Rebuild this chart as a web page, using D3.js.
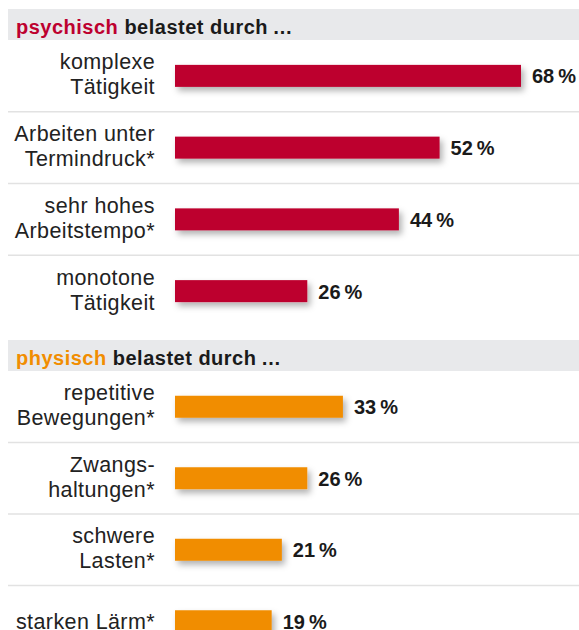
<!DOCTYPE html>
<html><head><meta charset="utf-8">
<script src="https://cdn.jsdelivr.net/npm/d3@7"></script>
<style>
html,body{margin:0;padding:0;background:#fff;}
svg{display:block;}
</style></head>
<body>
<script>
const psychCategories = [["komplexe","Tätigkeit"],["Arbeiten unter","Termindruck*"],["sehr hohes","Arbeitstempo*"],["monotone","Tätigkeit"]];
const psychValues = [68,52,44,26];
const physCategories = [["repetitive","Bewegungen*"],["Zwangs-","haltungen*"],["schwere","Lasten*"],["starken Lärm*"]];
const physValues = [33,26,21,19];
const groupTitles = [["psychisch"," belastet durch\u2009…"],["physisch"," belastet durch\u2009…"]];
const groupColors = ["#BD002F","#F18D00"];

const W = 579, H = 630;
const svg = d3.select("body").append("svg").attr("width",W).attr("height",H);
const defs = svg.append("defs");
const f = defs.append("filter").attr("id","sh").attr("x","-10%").attr("y","-50%").attr("width","130%").attr("height","250%");
f.append("feDropShadow").attr("dx",3).attr("dy",4).attr("stdDeviation",3).attr("flood-color","#000").attr("flood-opacity",0.3);

const x = d3.scaleLinear().domain([0,68]).range([175,521]);
const groups = [
  {cats: psychCategories, vals: psychValues, top: 9, rows:[40,327]},
  {cats: physCategories, vals: physValues, top: 340, rows:[371,657]}
];
const labelFont = "'Liberation Sans', Arial, sans-serif";
const headFont = "'Liberation Sans', Arial, sans-serif";

groups.forEach((g,gi)=>{
  const G = svg.append("g");
  G.append("rect").attr("x",8).attr("y",g.top).attr("width",W-8).attr("height",31).attr("fill","#E8E9EB");
  const t = G.append("text").attr("x",16).attr("y",g.top+24.5).attr("font-family",headFont).attr("font-weight","bold")
    .attr("font-size",20).attr("letter-spacing",0.5).attr("fill","#1a1a1a");
  t.append("tspan").attr("fill",groupColors[gi]).text(groupTitles[gi][0]);
  t.append("tspan").text(groupTitles[gi][1]);
  const y = d3.scaleBand().domain(d3.range(g.cats.length)).range(g.rows);
  G.selectAll("line.sep").data(d3.range(1,g.cats.length)).join("line")
    .attr("x1",8).attr("x2",W).attr("y1",i=>y(i)).attr("y2",i=>y(i))
    .attr("stroke","#E2E2E2").attr("stroke-width",1.5);
  const rows = G.selectAll("g.row").data(g.vals).join("g");
  rows.append("rect")
    .attr("x",x(0)).attr("y",(d,i)=>y(i)+y.bandwidth()/2-11)
    .attr("width",d=>x(d)-x(0)).attr("height",22)
    .attr("fill",groupColors[gi]).attr("filter","url(#sh)");
  rows.append("text")
    .attr("x",d=>x(d)+11).attr("y",(d,i)=>y(i)+y.bandwidth()/2+7.5)
    .attr("font-family",headFont).attr("font-weight","bold").attr("font-size",20).attr("fill","#1a1a1a")
    .text(d=>d+"\u2009%");
  rows.each(function(d,i){
    const lines = g.cats[i];
    const cy = y(i)+y.bandwidth()/2;
    const lh = 25;
    const t0 = lines.length>1 ? cy - 6.5 : cy + 8;
    const tx = d3.select(this).append("text").attr("text-anchor","end")
      .attr("font-family",labelFont).attr("font-size",21.5).attr("letter-spacing",0.4).attr("fill","#222");
    lines.forEach((l,k)=>tx.append("tspan").attr("x",155).attr("y",t0+k*lh).text(l));
  });
});
</script>
</body></html>
